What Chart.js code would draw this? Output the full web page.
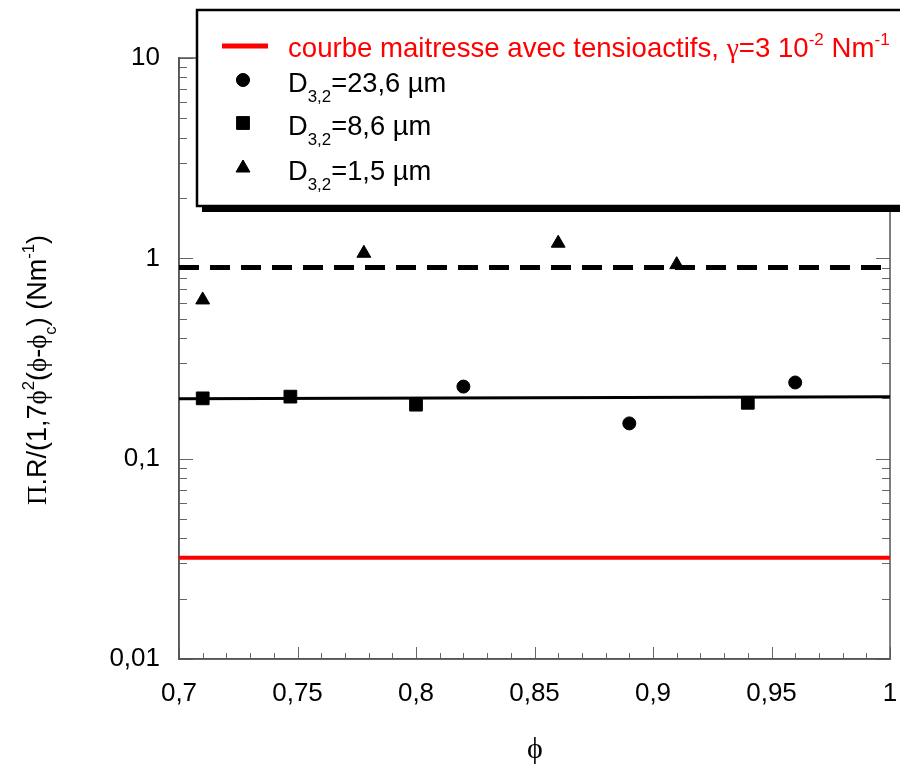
<!DOCTYPE html>
<html>
<head>
<meta charset="utf-8">
<script src="https://cdn.jsdelivr.net/npm/chart.js@4.4.1/dist/chart.umd.min.js"></script>
<style>
  html, body { margin: 0; padding: 0; background: #fff; }
  #wrap { width: 900px; height: 764px; }
</style>
</head>
<body>
<div id="wrap"><canvas id="chart" width="900" height="764"></canvas></div>
<script>
// axes
const xTicks = [0.7, 0.75, 0.8, 0.85, 0.9, 0.95, 1];
const yTicks = [0.01, 0.1, 1, 10];

// mesures
const phiD236 = [0.82, 0.89, 0.96];
const valD236 = [0.229, 0.150, 0.240];
const phiD86 = [0.71, 0.747, 0.80, 0.94];
const valD86 = [0.200, 0.204, 0.186, 0.190];
const phiD15 = [0.71, 0.778, 0.86, 0.91];
const valD15 = [0.62, 1.06, 1.19, 0.93];

// droites
const phiLines = [0.7, 1];
const masterCurve = [0.032, 0.032];
const fitSolid = [0.199, 0.204];
const fitDashed = [0.90, 0.90];

const SANS = '"Liberation Sans", Arial, sans-serif';
const SERIF = '"Liberation Serif", "DejaVu Serif", serif';
const fmt = v => String(parseFloat(v.toFixed(3))).replace('.', ',');
const pts = (xs, ys) => xs.map((x, i) => ({ x, y: ys[i] }));

// texte avec indices / exposants
function runsWidth(ctx, runs, size) {
    let w = 0;
    runs.forEach(r => {
        const s = (r.sup || r.sub) ? size * 0.62 : size;
        ctx.font = `${s}px ${r.serif ? SERIF : SANS}`;
        w += ctx.measureText(r.t).width;
    });
    return w;
}
function drawRuns(ctx, runs, x, y, size) {
    runs.forEach(r => {
        const s = (r.sup || r.sub) ? size * 0.62 : size;
        ctx.font = `${s}px ${r.serif ? SERIF : SANS}`;
        const dy = r.sup ? -size * 0.45 : r.sub ? size * 0.38 : 0;
        ctx.fillText(r.t, x, y + dy);
        x += ctx.measureText(r.t).width;
    });
}

const frameTicks = {
    id: 'frameTicks',
    beforeDatasetsDraw(chart) {
        const { ctx, chartArea: a, scales: { x, y } } = chart;
        ctx.save();
        ctx.strokeStyle = '#666'; ctx.lineWidth = 1;
        ctx.beginPath();
        for (let i = 0; i <= 30; i++) {
            const px = Math.round(x.getPixelForValue(0.7 + i * 0.01)) + 0.5;
            const len = i % 5 === 0 ? 12 : 6;
            ctx.moveTo(px, a.bottom); ctx.lineTo(px, a.bottom - len);
            ctx.moveTo(px, a.top); ctx.lineTo(px, a.top + len);
        }
        for (let e = -2; e <= 1; e++) {
            for (let k = 1; k <= 9; k++) {
                const v = k * Math.pow(10, e);
                if (v > 10.001) break;
                const py = Math.round(y.getPixelForValue(v)) + 0.5;
                const len = k === 1 ? 14 : 8;
                ctx.moveTo(a.left, py); ctx.lineTo(a.left + len, py);
                ctx.moveTo(a.right, py); ctx.lineTo(a.right - len, py);
            }
        }
        ctx.stroke();
        ctx.strokeStyle = '#555'; ctx.lineWidth = 1.5;
        ctx.strokeRect(a.left, a.top, a.right - a.left, a.bottom - a.top);
        ctx.restore();
    }
};

const boxLegend = {
    id: 'boxLegend',
    afterDraw(chart) {
        const ctx = chart.ctx;
        ctx.save();
        // cadre + ombre
        ctx.fillStyle = '#000';
        ctx.fillRect(202, 15, 760, 197);
        ctx.fillStyle = '#fff';
        ctx.fillRect(197, 10, 760, 196);
        ctx.strokeStyle = '#000'; ctx.lineWidth = 2.5;
        ctx.strokeRect(197, 10, 760, 196);

        ctx.strokeStyle = '#ff0000'; ctx.lineWidth = 5;
        ctx.beginPath(); ctx.moveTo(222, 46); ctx.lineTo(268, 46); ctx.stroke();
        ctx.textBaseline = 'alphabetic'; ctx.textAlign = 'left';
        ctx.fillStyle = '#ff0000';
        drawRuns(ctx, [
            { t: 'courbe maitresse avec tensioactifs, ' }, { t: 'γ', serif: true },
            { t: '=3 10' }, { t: '-2', sup: true }, { t: ' Nm' }, { t: '-1', sup: true }
        ], 288, 57, 27.6);

        ctx.fillStyle = '#000';
        const rows = [
            { style: 'circle', r: 6.5, y: 80, label: '=23,6 µm' },
            { style: 'rect', r: 9, y: 123, label: '=8,6 µm' },
            { style: 'triangle', r: 8, y: 168, label: '=1,5 µm' }
        ];
        rows.forEach(row => {
            ctx.fillStyle = '#000'; ctx.strokeStyle = '#000'; ctx.lineWidth = 1;
            Chart.helpers.drawPoint(ctx, { pointStyle: row.style, radius: row.r, rotation: 0, borderWidth: 1 }, 243, row.y);
            ctx.fill();
            drawRuns(ctx, [{ t: 'D' }, { t: '3,2', sub: true }, { t: row.label }], 288, row.y + 12, 27.3);
        });

        // titres des axes
        const yRuns = [
            { t: 'Π', serif: true }, { t: '.R/(1,7' }, { t: 'ϕ', serif: true }, { t: '2', sup: true },
            { t: '(' }, { t: 'ϕ', serif: true }, { t: '-' }, { t: 'ϕ', serif: true }, { t: 'c', sub: true },
            { t: ') (Nm' }, { t: '-1', sup: true }, { t: ')' }
        ];
        const w = runsWidth(ctx, yRuns, 27);
        ctx.translate(46, 370);
        ctx.rotate(-Math.PI / 2);
        drawRuns(ctx, yRuns, -w / 2, 0, 27);
        ctx.restore();

        ctx.save();
        ctx.fillStyle = '#000'; ctx.textAlign = 'center'; ctx.textBaseline = 'alphabetic';
        ctx.font = `30px ${SERIF}`;
        ctx.fillText('ϕ', 535, 758);
        ctx.restore();
    }
};

new Chart(document.getElementById('chart'), {
    type: 'scatter',
    data: {
        datasets: [
            { data: pts(phiD236, valD236), pointStyle: 'circle', pointRadius: 6.5, backgroundColor: '#000', borderColor: '#000' },
            { data: pts(phiD86, valD86), pointStyle: 'rect', pointRadius: 9, backgroundColor: '#000', borderColor: '#000' },
            { data: pts(phiD15, valD15), pointStyle: 'triangle', pointRadius: 8, backgroundColor: '#000', borderColor: '#000' },
            { data: pts(phiLines, fitDashed), showLine: true, pointRadius: 0, borderColor: '#000', borderWidth: 5, borderDash: [20, 11] },
            { data: pts(phiLines, fitSolid), showLine: true, pointRadius: 0, borderColor: '#000', borderWidth: 3 },
            { data: pts(phiLines, masterCurve), showLine: true, pointRadius: 0, borderColor: '#ff0000', borderWidth: 4 }
        ]
    },
    options: {
        responsive: false,
        animation: false,
        layout: { padding: { top: 58, right: 9, left: 0, bottom: 0 } },
        plugins: { legend: { display: false }, tooltip: { enabled: false } },
        scales: {
            x: {
                type: 'linear', min: 0.7, max: 1,
                afterBuildTicks: s => { s.ticks = xTicks.map(v => ({ value: v })); },
                afterFit: s => { s.height = 105; s.paddingLeft = 0; s.paddingRight = 0; },
                grid: { display: false, drawTicks: false },
                border: { display: true, color: '#555', width: 1.5 },
                ticks: { color: '#000', padding: 19, font: { family: SANS, size: 26 }, callback: v => fmt(v) }
            },
            y: {
                type: 'logarithmic', min: 0.01, max: 10,
                afterBuildTicks: s => { s.ticks = yTicks.map(v => ({ value: v })); },
                afterFit: s => { s.width = 179; s.paddingTop = 0; s.paddingBottom = 0; },
                grid: { display: false, drawTicks: false },
                border: { display: true, color: '#555', width: 1.5 },
                ticks: { color: '#000', padding: 19, font: { family: SANS, size: 26 }, callback: v => fmt(v) }
            }
        }
    },
    plugins: [frameTicks, boxLegend]
});
</script>
</body>
</html>
